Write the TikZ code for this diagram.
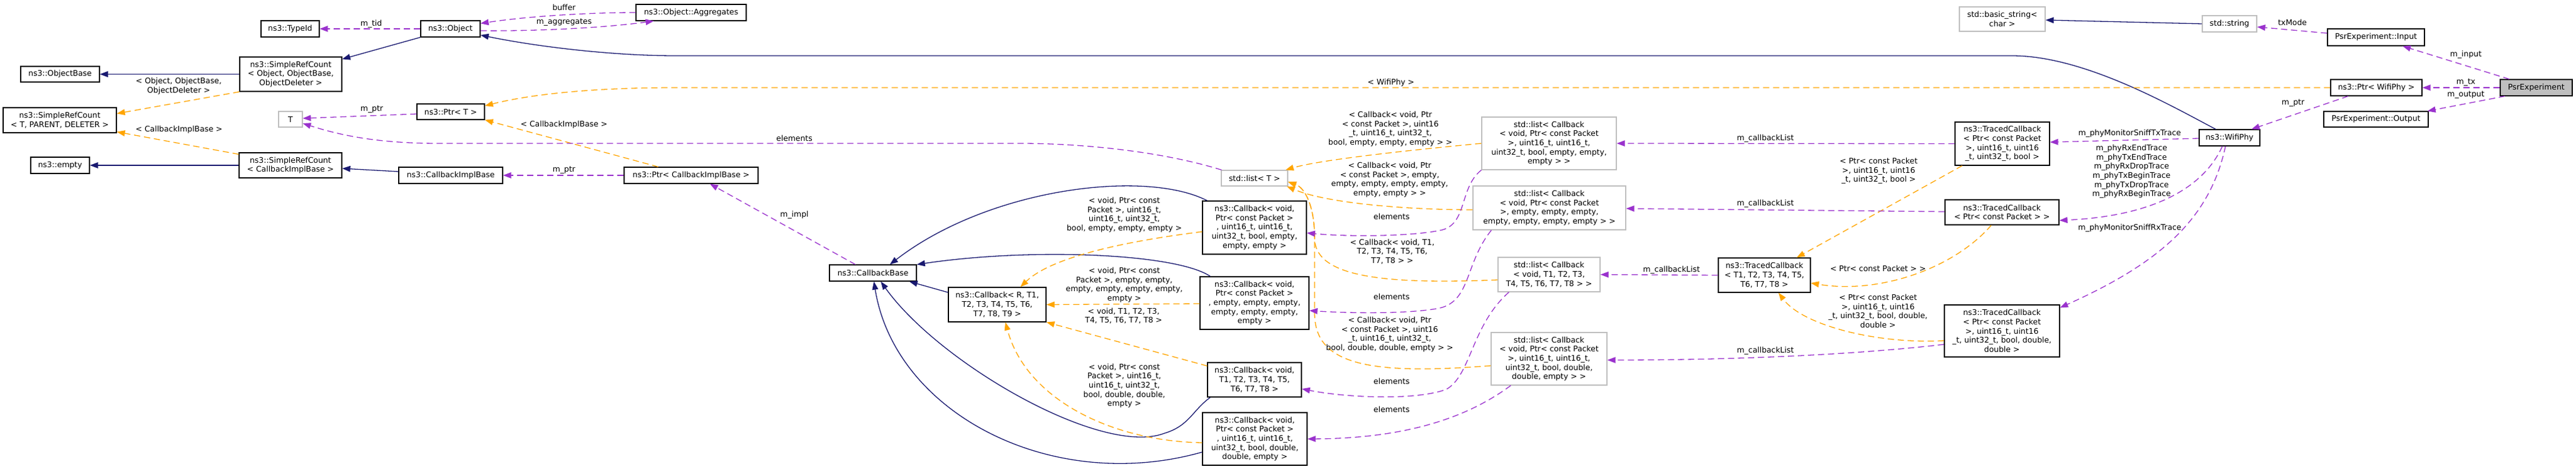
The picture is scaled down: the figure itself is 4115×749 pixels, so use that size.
\documentclass[tikz,border=0pt]{standalone}
\usepackage{fontspec}
\setmainfont{DejaVu Sans}
\usetikzlibrary{arrows.meta,calc}
\definecolor{edgeblue}{HTML}{191970}
\definecolor{edgeorange}{HTML}{FFA500}
\definecolor{edgepurple}{HTML}{9A32CD}
\definecolor{boxgray}{HTML}{BFBFBF}
\tikzset{
	cls/.style={draw=black, fill=white, line width=1.2pt, inner sep=2pt, align=center, font=\fontsize{12.4}{14.7}\selectfont},
	stdcls/.style={cls, draw=boxgray},
	mainbox/.style={cls, fill=boxgray},
	lbl/.style={inner sep=0pt, align=center, font=\fontsize{12.4}{14.7}\selectfont},
	inherit/.style={draw=edgeblue, line width=1.3pt, -{Triangle[length=13pt,width=9.5pt]}},
	usage/.style={draw=edgepurple, line width=1.3pt, dash pattern=on 10pt off 6pt, -{Triangle[length=13pt,width=9.5pt]}},
	tmpl/.style={usage, draw=edgeorange},
}
\begin{document}
\begin{tikzpicture}[x=1pt, y=-1pt]
			%%%%% START %%%%%
			\useasboundingbox (0,0) rectangle (4115,749);
			
			%% left part
			\node[cls, minimum width=126pt, minimum height=25pt] (nObjBase) at (96,118.5) {ns3::ObjectBase};
			\node[cls, minimum width=181pt, minimum height=40pt] (nSrcGen) at (95.5,192) {ns3::SimpleRefCount\\< T, PARENT, DELETER >};
			\node[cls, minimum width=94pt, minimum height=26pt] (nEmpty) at (96,264) {ns3::empty};
			\node[cls, minimum width=163pt, minimum height=55pt] (nSrcObj) at (464.5,118.5) {ns3::SimpleRefCount\\< Object, ObjectBase,\\ObjectDeleter >};
			\node[cls, minimum width=164pt, minimum height=40pt] (nSrcCib) at (464,264) {ns3::SimpleRefCount\\< CallbackImplBase >};
			\node[cls, minimum width=93pt, minimum height=26pt] (nTypeId) at (463.5,46) {ns3::TypeId};
			\node[stdcls, minimum width=38pt, minimum height=25pt] (nT) at (464,190.5) {T};
			\node[cls, minimum width=95pt, minimum height=26pt] (nObject) at (719.5,46) {ns3::Object};
			\node[cls, minimum width=108pt, minimum height=25pt] (nPtrT) at (720,178.5) {ns3::Ptr< T >};
			\node[cls, minimum width=166pt, minimum height=26pt] (nCib) at (720,280) {ns3::CallbackImplBase};
			\node[cls, minimum width=176pt, minimum height=26pt] (nAggr) at (1104,20) {ns3::Object::Aggregates};
			\node[cls, minimum width=214pt, minimum height=26pt] (nPtrCib) at (1104,280) {ns3::Ptr< CallbackImplBase >};
			
			%% callbacks
			\node[cls, minimum width=139pt, minimum height=26pt] (nCbBase) at (1394.5,436) {ns3::CallbackBase};
			\node[cls, minimum width=156pt, minimum height=55pt] (nCbGen) at (1593,486.5) {ns3::Callback< R, T1,\\T2, T3, T4, T5, T6,\\T7, T8, T9 >};
			\node[stdcls, minimum width=106pt, minimum height=25pt] (nListT) at (2004,284.5) {std::list< T >};
			\node[cls, minimum width=166pt, minimum height=85pt] (nCbA) at (2004,363.5) {ns3::Callback< void,\\Ptr< const Packet >\\, uint16\_t, uint16\_t,\\uint32\_t, bool, empty,\\empty, empty >};
			\node[cls, minimum width=174pt, minimum height=84pt] (nCbB) at (2004,484) {ns3::Callback< void,\\Ptr< const Packet >\\, empty, empty, empty,\\empty, empty, empty,\\empty >};
			\node[cls, minimum width=150pt, minimum height=55pt] (nCbC) at (2004,606.5) {ns3::Callback< void,\\T1, T2, T3, T4, T5,\\T6, T7, T8 >};
			\node[cls, minimum width=167pt, minimum height=84pt] (nCbD) at (2004.5,701) {ns3::Callback< void,\\Ptr< const Packet >\\, uint16\_t, uint16\_t,\\uint32\_t, bool, double,\\double, empty >};
			
			%% lists
			\node[stdcls, minimum width=215pt, minimum height=84pt] (nListA) at (2474.5,229) {std::list< Callback\\< void, Ptr< const Packet\\>, uint16\_t, uint16\_t,\\uint32\_t, bool, empty, empty,\\empty > >};
			\node[stdcls, minimum width=244pt, minimum height=70pt] (nListB) at (2475,332) {std::list< Callback\\< void, Ptr< const Packet\\>, empty, empty, empty,\\empty, empty, empty, empty > >};
			\node[stdcls, minimum width=163pt, minimum height=55pt] (nListC) at (2474.5,438.5) {std::list< Callback\\< void, T1, T2, T3,\\T4, T5, T6, T7, T8 > >};
			\node[stdcls, minimum width=185pt, minimum height=84pt] (nListD) at (2474.5,573) {std::list< Callback\\< void, Ptr< const Packet\\>, uint16\_t, uint16\_t,\\uint32\_t, bool, double,\\double, empty > >};
			
			%% traced callbacks
			\node[cls, minimum width=147pt, minimum height=55pt] (nTcGen) at (2818.5,439.5) {ns3::TracedCallback\\< T1, T2, T3, T4, T5,\\T6, T7, T8 >};
			\node[cls, minimum width=151pt, minimum height=69pt] (nTcA) at (3198.5,229.5) {ns3::TracedCallback\\< Ptr< const Packet\\>, uint16\_t, uint16\\\_t, uint32\_t, bool >};
			\node[cls, minimum width=182pt, minimum height=40pt] (nTcB) at (3198,339) {ns3::TracedCallback\\< Ptr< const Packet > >};
			\node[cls, minimum width=184pt, minimum height=83pt] (nTcD) at (3198,528.5) {ns3::TracedCallback\\< Ptr< const Packet\\>, uint16\_t, uint16\\\_t, uint32\_t, bool, double,\\double >};
			
			%% right part
			\node[stdcls, minimum width=137pt, minimum height=39pt] (nBasicStr) at (3198.5,30.5) {std::basic\_string<\\char >};
			\node[stdcls, minimum width=87pt, minimum height=26pt] (nStr) at (3561.5,38) {std::string};
			\node[cls, minimum width=97pt, minimum height=26pt] (nWifiPhy) at (3561.5,220) {ns3::WifiPhy};
			\node[cls, minimum width=155pt, minimum height=27pt] (nInput) at (3795.5,59.5) {PsrExperiment::Input};
			\node[cls, minimum width=146pt, minimum height=26pt] (nPtrWifi) at (3796,140) {ns3::Ptr< WifiPhy >};
			\node[cls, minimum width=167pt, minimum height=25pt] (nOutput) at (3795.5,190.5) {PsrExperiment::Output};
			\node[mainbox, minimum width=115pt, minimum height=26pt] (nPsr) at (4051.5,140) {PsrExperiment};
			
			%% inheritance
			\draw[inherit] (nSrcObj.west) -- (nObjBase.east);
			\draw[inherit] (nObject.south west) -- ($(nSrcObj.north east)+(0,4)$);
			\draw[inherit] (nSrcCib.west) -- (nEmpty.east);
			\draw[inherit] ($(nCib.west)+(0,-6)$) -- ($(nSrcCib.east)+(0,5)$);
			\draw[inherit] ($(nWifiPhy.north)+(-22,0)$) .. controls (3470,170) and (3330,89) .. (3214,89) -- (1079,89) .. controls (980,89) and (860,75) .. ($(nObject.east)+(0,10)$);
			\draw[inherit] (nStr.west) -- ($(nBasicStr.east)+(0,1.5)$);
			\draw[inherit] ($(nCbA.north west)+(8,0)$) .. controls (1830,270) and (1580,300) .. ($(nCbBase.north)+(27,0)$);
			\draw[inherit] ($(nCbB.north west)+(17,0)$) .. controls (1880,405) and (1650,395) .. (nCbBase.north east);
			\draw[inherit] ($(nCbGen.west)+(0,-19.5)$) -- ($(nCbBase.south east)+(-12,0)$);
			\draw[inherit] ($(nCbC.south west)+(5,0)$) .. controls (1905,655) and (1900,680) .. (1860,692) .. controls (1760,730) and (1500,580) .. ($(nCbBase.south)+(12.5,0)$);
			\draw[inherit] ($(nCbD.west)+(0,21)$) .. controls (1680,790) and (1430,660) .. ($(nCbBase.south)+(1.5,0)$);
			
			%% template instances
			\draw[tmpl] (nSrcObj.south west) -- ($(nSrcGen.north east)+(0,10)$);
			\draw[tmpl] ($(nSrcCib.north west)+(0,3)$) -- ($(nSrcGen.south east)+(0,-2)$);
			\draw[tmpl] (nPtrWifi.west) -- (1079,140) .. controls (950,140) and (850,150) .. ($(nPtrT.east)+(0,-9.5)$);
			\draw[tmpl] ($(nPtrCib.north west)+(55,0)$) -- (nPtrT.south east);
			\draw[tmpl] ($(nCbA.west)+(0,6.5)$) .. controls (1800,385) and (1680,410) .. ($(nCbGen.north)+(37,0)$);
			\draw[tmpl] ($(nCbB.west)+(0,1)$) -- (nCbGen.east);
			\draw[tmpl] ($(nCbC.north west)+(0,6)$) -- (nCbGen.south east);
			\draw[tmpl] ($(nCbD.west)+(0,6)$) .. controls (1780,705) and (1640,640) .. ($(nCbGen.south)+(13,0)$);
			\draw[tmpl] (nListA.west) .. controls (2250,240) and (2110,255) .. ($(nListT.north east)+(-4,0)$);
			\draw[tmpl] ($(nListB.west)+(0,3)$) .. controls (2250,335) and (2120,325) .. ($(nListT.south east)+(-2,0)$);
			\draw[tmpl] ($(nListC.west)+(0,8.5)$) .. controls (2200,455) and (2100,440) .. (2100,380) .. controls (2100,330) and (2085,300) .. ($(nListT.east)+(0,6)$);
			\draw[tmpl] ($(nListD.west)+(0,11)$) .. controls (2180,600) and (2100,580) .. (2100,500) -- (2100,380) .. controls (2100,330) and (2085,300) .. ($(nListT.east)+(0,6)$);
			\draw[tmpl] ($(nTcA.south west)+(12,0)$) -- ($(nTcGen.north)+(51.5,0)$);
			\draw[tmpl] ($(nTcB.south)+(-17,0)$) .. controls (3120,430) and (3000,470) .. ($(nTcGen.east)+(0,12.5)$);
			\draw[tmpl] ($(nTcD.west)+(0,15.5)$) .. controls (3000,550) and (2880,520) .. ($(nTcGen.south)+(22.5,0)$);
			
			%% members
			\draw[usage] (nObject.west) -- (nTypeId.east);
			\draw[usage] (nAggr.west) .. controls (950,20) and (850,25) .. ($(nObject.north east)+(0,5)$);
			\draw[usage] ($(nObject.east)+(0,3)$) .. controls (850,50) and (960,45) .. ($(nAggr.south west)+(29,0)$);
			\draw[usage] ($(nPtrT.west)+(0,3.5)$) -- ($(nT.east)+(0,-1.5)$);
			\draw[usage] ($(nListT.north west)+(1,0)$) .. controls (1850,240) and (1720,229) .. (1630,229) -- (700,229) .. controls (600,229) and (540,215) .. ($(nT.east)+(0,6.5)$);
			\draw[usage] (nPtrCib.west) -- (nCib.east);
			\draw[usage] ($(nCbBase.north west)+(42,0)$) -- ($(nPtrCib.south)+(30,0)$);
			\draw[usage] (nListA.south west) .. controls (2330,300) and (2345,360) .. (2300,368) .. controls (2250,378) and (2150,378) .. ($(nCbA.east)+(0,8.5)$);
			\draw[usage] ($(nListB.south west)+(30,0)$) .. controls (2340,420) and (2350,480) .. (2300,492) .. controls (2250,502) and (2150,500) .. ($(nCbB.east)+(0,12)$);
			\draw[usage] ($(nListC.south west)+(18,0)$) .. controls (2350,520) and (2350,600) .. (2310,622) .. controls (2260,640) and (2150,635) .. ($(nCbC.east)+(0,14.5)$);
			\draw[usage] ($(nListD.south west)+(32,0)$) .. controls (2340,670) and (2240,700) .. (nCbD.east);
			\draw[usage] (nTcA.west) -- (nListA.east);
			\draw[usage] ($(nTcB.west)+(0,-1)$) -- ($(nListB.east)+(0,1)$);
			\draw[usage] (nTcGen.west) -- (nListC.east);
			\draw[usage] ($(nTcD.west)+(0,21.5)$) .. controls (2950,568) and (2750,575) .. ($(nListD.east)+(0,2)$);
			\draw[usage] ($(nWifiPhy.west)+(0,1)$) -- ($(nTcA.east)+(0,-2.5)$);
			\draw[usage] ($(nWifiPhy.south)+(-11.5,0)$) .. controls (3520,300) and (3440,345) .. ($(nTcB.east)+(0,13)$);
			\draw[usage] ($(nWifiPhy.south)+(-6.5,0)$) .. controls (3530,350) and (3450,420) .. ($(nTcD.north east)+(0,5)$);
			\draw[usage] ($(nInput.west)+(0,-6.5)$) -- ($(nStr.east)+(0,5)$);
			\draw[usage] ($(nPsr.north west)+(15,0)$) -- ($(nInput.south)+(42.5,0)$);
			\draw[usage] (nPsr.west) -- (nPtrWifi.east);
			\draw[usage] ($(nPsr.south west)+(8,0)$) -- ($(nOutput.north east)+(-2,0)$);
			\draw[usage] ($(nPtrWifi.south)+(-45,0)$) -- ($(nWifiPhy.north east)+(-14,0)$);
			
			%% edge labels
			\node[lbl] (lTid) at (593,38) {m\_tid};
			\node[lbl] (lBuffer) at (901,12) {buffer};
			\node[lbl] (lAggr) at (901,36) {m\_aggregates};
			\node[lbl] (lPtrT) at (594,175) {m\_ptr};
			\node[lbl] (lSrcObj) at (285.5,137.5) {< Object, ObjectBase,\\ObjectDeleter >};
			\node[lbl] (lSrcCib) at (286,207) {< CallbackImplBase >};
			\node[lbl] (lPtrCibT) at (901,199) {< CallbackImplBase >};
			\node[lbl] (lPtrCib) at (901,272) {m\_ptr};
			\node[lbl] (lImpl) at (1269,343) {m\_impl};
			\node[lbl] (lElemT) at (1269,221) {elements};
			\node[lbl] (lWifi) at (2222,132) {< WifiPhy >};
			\node[lbl] (lCbA) at (1796,343) {< void, Ptr< const\\Packet >, uint16\_t,\\uint16\_t, uint32\_t,\\bool, empty, empty, empty >};
			\node[lbl] (lCbB) at (1796,455) {< void, Ptr< const\\Packet >, empty, empty,\\empty, empty, empty, empty,\\empty >};
			\node[lbl] (lCbC) at (1795,504.5) {< void, T1, T2, T3,\\T4, T5, T6, T7, T8 >};
			\node[lbl] (lCbD) at (1796,616) {< void, Ptr< const\\Packet >, uint16\_t,\\uint16\_t, uint32\_t,\\bool, double, double,\\empty >};
			\node[lbl] (lListA) at (2221,206) {< Callback< void, Ptr\\< const Packet >, uint16\\\_t, uint16\_t, uint32\_t,\\bool, empty, empty, empty > >};
			\node[lbl] (lListB) at (2220,287) {< Callback< void, Ptr\\< const Packet >, empty,\\empty, empty, empty, empty,\\empty, empty > >};
			\node[lbl] (lListC) at (2224,402) {< Callback< void, T1,\\T2, T3, T4, T5, T6,\\T7, T8 > >};
			\node[lbl] (lListD) at (2220,534) {< Callback< void, Ptr\\< const Packet >, uint16\\\_t, uint16\_t, uint32\_t,\\bool, double, double, empty > >};
			\node[lbl] (lElemA) at (2223,346) {elements};
			\node[lbl] (lElemB) at (2223,474) {elements};
			\node[lbl] (lElemC) at (2223,609) {elements};
			\node[lbl] (lElemD) at (2223,654) {elements};
			\node[lbl] (lCbListA) at (2820,221) {m\_callbackList};
			\node[lbl] (lCbListB) at (2820,325) {m\_callbackList};
			\node[lbl] (lCbListC) at (2670,431) {m\_callbackList};
			\node[lbl] (lCbListD) at (2820,560) {m\_callbackList};
			\node[lbl] (lTcA) at (3001,273) {< Ptr< const Packet\\>, uint16\_t, uint16\\\_t, uint32\_t, bool >};
			\node[lbl] (lTcB) at (3000,429) {< Ptr< const Packet > >};
			\node[lbl] (lTcD) at (3000,497) {< Ptr< const Packet\\>, uint16\_t, uint16\\\_t, uint32\_t, bool, double,\\double >};
			\node[lbl] (lSniffTx) at (3402,213) {m\_phyMonitorSniffTxTrace};
			\node[lbl] (lTraces) at (3405,274) {m\_phyRxEndTrace\\m\_phyTxEndTrace\\m\_phyRxDropTrace\\m\_phyTxBeginTrace\\m\_phyTxDropTrace\\m\_phyRxBeginTrace};
			\node[lbl] (lSniffRx) at (3402,364) {m\_phyMonitorSniffRxTrace};
			\node[lbl] (lTxMode) at (3662,36) {txMode};
			\node[lbl] (lInput) at (3939,87) {m\_input};
			\node[lbl] (lTx) at (3939,132) {m\_tx};
			\node[lbl] (lOutput) at (3939,152) {m\_output};
			\node[lbl] (lPtrWifi) at (3663,165) {m\_ptr};
			
			%%%%% END %%%%%
\end{tikzpicture}
\end{document}
